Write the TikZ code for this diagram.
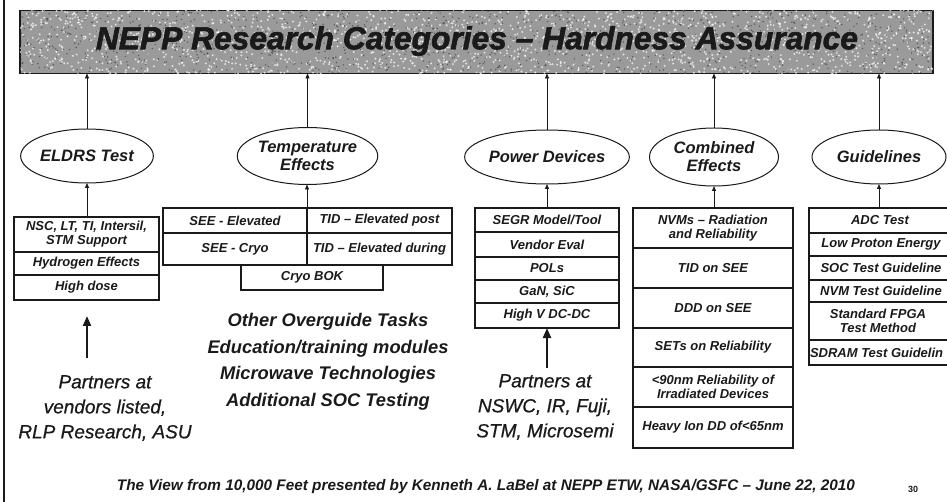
\documentclass[tikz,border=0pt]{standalone}
\usepackage{fontspec}
\usepackage{graphicx}
\setmainfont{Liberation Sans}
\newfontfamily\heavyfont{Liberation Sans Bold Italic}[FakeBold=2]
\newfontfamily\partfont{Liberation Sans Italic}[FakeBold=0.7]
\usetikzlibrary{arrows.meta,shapes.geometric}
\definecolor{ink}{HTML}{1A1A1A}
\definecolor{grain}{HTML}{9A9A9A}

\begin{document}
\begin{tikzpicture}[x=1pt,y=-1pt,
  every node/.style={text=ink, inner sep=0pt, outer sep=0pt},
  catnode/.style={ellipse, draw=ink, line width=1pt, minimum width=130pt, minimum height=54pt,
    font=\fontsize{16.5}{18}\selectfont\bfseries\itshape, align=center},
  cellbox/.style={rectangle, draw=ink, line width=1.1pt,
    font=\fontsize{13}{14}\selectfont\bfseries\itshape, align=center},
  celltext/.style={font=\fontsize{13}{14}\selectfont\bfseries\itshape, align=center},
  uparrow/.style={draw=ink, line width=0.8pt, -{Triangle[length=5pt,width=4pt]}},
  bigarrow/.style={draw=ink, line width=2.2pt, -{Triangle[length=10pt,width=8pt]}},
  partners/.style={font=\fontsize{19}{25}\selectfont\partfont, align=center},
  tasks/.style={font=\fontsize{18.3}{26.5}\selectfont\bfseries\itshape, align=center}
]
\useasboundingbox (0,0) rectangle (947,502);
\clip (0,0) rectangle (947,502);

% slide frame edge
\draw[ink, line width=1.6pt] (4,0) -- (4,502);

% title banner with grainy fill
\node[rectangle, draw=ink, line width=1.6pt, fill=grain, minimum width=913pt, minimum height=63pt] (banner) at (476.5,42) {};
\begin{scope}
  \clip (banner.south west) rectangle (banner.north east);
  \pgfmathsetseed{4711}
  \foreach \i in {1,...,1800} {
    \pgfmathsetmacro\xx{476.5+460*rand}
    \pgfmathsetmacro\yy{42+33*rand}
    \fill[white, opacity=0.7] (\xx,\yy) circle (1.1pt);
  }
  \foreach \i in {1,...,1100} {
    \pgfmathsetmacro\xx{476.5+460*rand}
    \pgfmathsetmacro\yy{42+33*rand}
    \fill[black!80, opacity=0.6] (\xx,\yy) circle (0.8pt);
  }
\end{scope}
\node (ttl) at (477,41) {\resizebox{762pt}{!}{\heavyfont NEPP Research Categories – Hardness Assurance}};

% category ellipses
\node[catnode] (eldrs) at (87,156) {ELDRS Test};
\node[catnode, minimum width=129pt, minimum height=57pt] (temp) at (307.5,156) {Temperature\\Effects};
\node[catnode] (power) at (547,157) {Power Devices};
\node[catnode, minimum width=129pt, minimum height=58pt] (comb) at (714,157) {Combined\\Effects};
\node[catnode, minimum width=134pt] (guide) at (879,157) {Guidelines};

\foreach \n in {eldrs,temp,power,comb,guide}
  \draw[uparrow] (\n.north) -- (\n.north |- banner.south);

% ELDRS column
\node[cellbox, minimum width=145pt, minimum height=35pt] (e1) at (86.5,234.5) {NSC, LT, TI, Intersil,\\STM Support};
\node[cellbox, minimum width=145pt, minimum height=23pt] (e2) at (86.5,263.5) {Hydrogen Effects};
\node[cellbox, minimum width=145pt, minimum height=25pt] (e3) at (86.5,287.5) {High dose};
\draw[uparrow] (e1.north -| eldrs.south) -- (eldrs.south);

% temperature column
\begin{scope}[every node/.append style={font=\fontsize{12.5}{14}\selectfont\bfseries\itshape}]
\node[cellbox, minimum width=144pt, minimum height=25pt] (t1) at (235,220.5) {SEE - Elevated};
\node[cellbox, minimum width=145pt, minimum height=25pt] (t2) at (379.5,220.5) {TID – Elevated post};
\node[cellbox, minimum width=144pt, minimum height=32pt] (t3) at (235,249) {SEE - Cryo};
\node[cellbox, minimum width=145pt, minimum height=32pt] (t4) at (379.5,249) {TID – Elevated during};
\node[cellbox, minimum width=142pt, minimum height=25pt] (t5) at (312,277.5) {Cryo BOK};
\end{scope}
\draw[uparrow] (t1.north east) -- (t1.north east |- temp.south);

% power devices column
\node[cellbox, minimum width=144pt, minimum height=24pt] (p1) at (547,220) {SEGR Model/Tool};
\node[cellbox, minimum width=144pt, minimum height=25pt] (p2) at (547,244.5) {Vendor Eval};
\node[cellbox, minimum width=144pt, minimum height=23pt] (p3) at (547,268.5) {POLs};
\node[cellbox, minimum width=144pt, minimum height=23pt] (p4) at (547,291.5) {GaN, SiC};
\node[cellbox, minimum width=144pt, minimum height=25pt] (p5) at (547,315.5) {High V DC-DC};
\draw[uparrow] (p1.north) -- (power.south);

% combined effects column
\node[cellbox, minimum width=160pt, minimum height=40pt] (c1) at (713,228) {NVMs – Radiation\\and Reliability};
\node[cellbox, minimum width=160pt, minimum height=40pt] (c2) at (713,268) {TID on SEE};
\node[cellbox, minimum width=160pt, minimum height=40pt] (c3) at (713,308) {DDD on SEE};
\node[cellbox, minimum width=160pt, minimum height=39pt] (c4) at (713,347.5) {SETs on Reliability};
\node[cellbox, minimum width=160pt, minimum height=40pt] (c5) at (713,387) {<90nm Reliability of\\Irradiated Devices};
\node[cellbox, minimum width=160pt, minimum height=41pt] (c6) at (713,427.5) {Heavy Ion DD of<65nm};
\draw[uparrow] (c1.north -| comb.south) -- (comb.south);

% guidelines column
\node[cellbox, minimum width=143pt, minimum height=25pt] (g1) at (880.5,220.5) {};
\node[cellbox, minimum width=143pt, minimum height=23pt] (g2) at (880.5,244.5) {};
\node[cellbox, minimum width=143pt, minimum height=24pt] (g3) at (880.5,268) {};
\node[cellbox, minimum width=143pt, minimum height=22pt] (g4) at (880.5,291) {};
\node[cellbox, minimum width=143pt, minimum height=38pt] (g5) at (880.5,321) {};
\node[cellbox, minimum width=143pt, minimum height=25pt] (g6) at (880.5,352.5) {};
\node[celltext] (g1t) at (880,220.5) {ADC Test};
\node[celltext] (g2t) at (881,244.5) {Low Proton Energy};
\node[celltext] (g3t) at (881,268) {SOC Test Guideline};
\node[celltext] (g4t) at (881,291) {NVM Test Guideline};
\node[celltext] (g5t) at (878,321) {Standard FPGA\\Test Method};
\node[celltext, anchor=west] (g6t) at (810,352.5) {SDRAM Test Guidelin};
\draw[uparrow] (g1.north -| guide.south) -- (guide.south);

% partner notes and other tasks
\coordinate (pa1) at (87,358);
\coordinate (pa1h) at (87,316);
\draw[bigarrow] (pa1) -- (pa1h);
\node[partners] (part1) at (105,408) {Partners at\\vendors listed,\\RLP Research, ASU};

\coordinate (pa2) at (547,368);
\draw[bigarrow] (pa2) -- (p5.south);
\node[partners] (part2) at (545,407) {Partners at\\NSWC, IR, Fuji,\\STM, Microsemi};

\node[tasks] (other) at (328,362) {Other Overguide Tasks\\Education/training modules\\Microwave Technologies\\Additional SOC Testing};

% footer
\node[font=\bfseries\itshape] (foot) at (486,487) {\resizebox{738pt}{!}{The View from 10,000 Feet presented by Kenneth A. LaBel at NEPP ETW, NASA/GSFC – June 22, 2010}};
\node[font=\fontsize{9}{10}\selectfont\bfseries] (pg) at (913,489) {30};
\end{tikzpicture}
\end{document}
